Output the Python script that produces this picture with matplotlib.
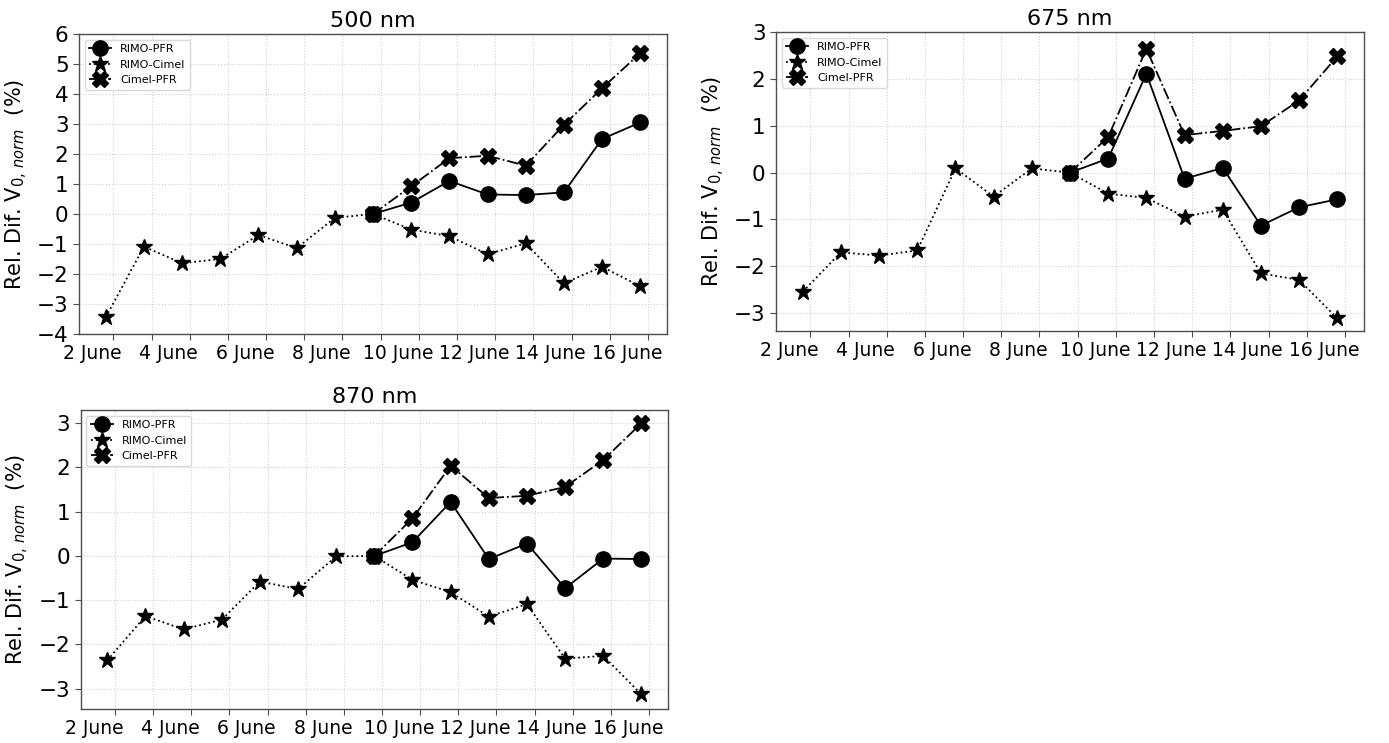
import numpy as np
import matplotlib
matplotlib.use("Agg")
import matplotlib.pyplot as plt

# days (June) of each measurement
days_all = [1.8, 2.8, 3.8, 4.8, 5.8, 6.8, 7.8, 8.8, 9.8, 10.8, 11.8, 12.8, 13.8, 14.8, 15.8]
days_pfr = days_all[7:]

wavelengths = ["500 nm", "675 nm", "870 nm"]

rimo_cimel_500 = [-3.44, -1.09, -1.64, -1.50, -0.70, -1.14, -0.13, 0.0,
                  -0.52, -0.74, -1.34, -0.98, -2.31, -1.76, -2.41]
rimo_pfr_500 = [0.0, 0.38, 1.10, 0.65, 0.63, 0.72, 2.50, 3.05]
cimel_pfr_500 = [0.0, 0.92, 1.86, 1.94, 1.61, 2.97, 4.19, 5.36]

rimo_cimel_675 = [-2.54, -1.70, -1.77, -1.66, 0.09, -0.51, 0.09, 0.0,
                  -0.45, -0.54, -0.94, -0.79, -2.15, -2.29, -3.11]
rimo_pfr_675 = [0.0, 0.30, 2.11, -0.13, 0.10, -1.13, -0.74, -0.57]
cimel_pfr_675 = [0.0, 0.76, 2.64, 0.80, 0.89, 0.99, 1.54, 2.48]

rimo_cimel_870 = [-2.36, -1.36, -1.66, -1.44, -0.58, -0.75, -0.01, 0.0,
                  -0.54, -0.82, -1.37, -1.09, -2.32, -2.26, -3.13]
rimo_pfr_870 = [0.0, 0.31, 1.22, -0.07, 0.28, -0.73, -0.06, -0.07]
cimel_pfr_870 = [0.0, 0.85, 2.04, 1.31, 1.36, 1.56, 2.17, 3.00]

tick_days = list(range(2, 17))
label_days = [2, 4, 6, 8, 10, 12, 14, 16]
label_text = [f"{d} June" for d in label_days]
label_shift = -0.55  # labels sit a bit left of their day tick

ylims = [(-4, 6), (-3.38, 3.0), (-3.46, 3.3)]
yticks = [np.arange(-4, 7, 1), np.arange(-3, 4, 1), np.arange(-3, 4, 1)]

positions = [
    [0.0569, 0.5505, 0.4233, 0.4038],
    [0.5587, 0.5545, 0.4233, 0.4024],
    [0.0580, 0.0458, 0.4230, 0.4024],
]

series = [
    (rimo_cimel_500, rimo_pfr_500, cimel_pfr_500),
    (rimo_cimel_675, rimo_pfr_675, cimel_pfr_675),
    (rimo_cimel_870, rimo_pfr_870, cimel_pfr_870),
]

fig = plt.figure(figsize=(13.89, 7.43), dpi=100)

for i in range(3):
    ax = fig.add_axes(positions[i])
    rc, rp, cp = series[i]
    ax.plot(days_pfr, rp, 'k-', marker='o', ms=11, lw=1.3, label='RIMO-PFR', zorder=3)
    ax.plot(days_all, rc, 'k:', marker='*', ms=12, lw=1.3, label='RIMO-Cimel', zorder=3)
    ax.plot(days_pfr, cp, 'k-.', marker='X', ms=11, lw=1.3, label='Cimel-PFR', zorder=3)

    ax.set_ylim(*ylims[i])
    ax.set_yticks(yticks[i])
    ax.set_xticks([d + label_shift for d in label_days])
    ax.set_xticklabels(label_text)
    ax.set_xticks(tick_days, minor=True)

    ax.tick_params(axis='x', which='major', labelsize=13.5, length=0, pad=7)
    ax.tick_params(axis='x', which='minor', length=4, width=0.8, color='0.3')
    ax.tick_params(axis='y', labelsize=15.5, length=4, width=0.8, color='0.3')
    ax.grid(True, axis='y', linestyle=':', color='0.82', lw=0.8)
    ax.grid(True, axis='x', which='minor', linestyle=':', color='0.82', lw=0.8)
    for sp in ax.spines.values():
        sp.set_color('0.3')
        sp.set_linewidth(1.0)

    ax.set_title(wavelengths[i], fontsize=16, pad=5)
    ax.set_ylabel(r'Rel. Dif. V$_{0,\,norm}$  (%)', fontsize=15, labelpad=5)
    ax.legend(loc='upper left', fontsize=8, framealpha=1, edgecolor='0.85')

fig.savefig("out.png", dpi=100)
